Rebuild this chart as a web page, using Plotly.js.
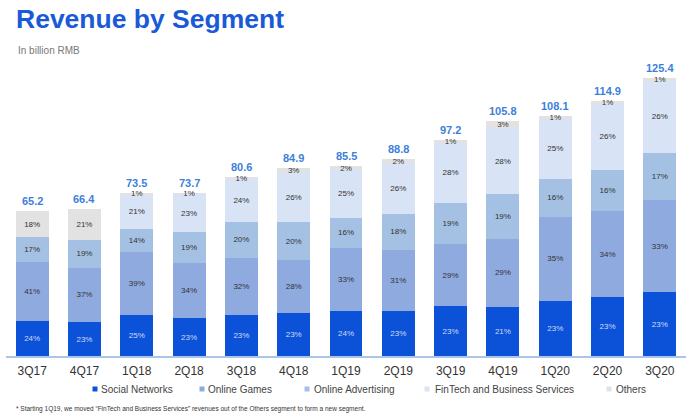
<!DOCTYPE html>
<html>
<head>
<meta charset="utf-8">
<script src="https://cdn.plot.ly/plotly-3.0.1.min.js"></script>
<style>html,body{margin:0;padding:0;background:#fff;}#chart{width:700px;height:420px;}</style>
</head>
<body>
<div id="chart"></div>
<script>
const quarters = ['3Q17','4Q17','1Q18','2Q18','3Q18','4Q18','1Q19','2Q19','3Q19','4Q19','1Q20','2Q20','3Q20'];
const totals = [65.2, 66.4, 73.5, 73.7, 80.6, 84.9, 85.5, 88.8, 97.2, 105.8, 108.1, 114.9, 125.4];
const socialPct = [24, 23, 25, 23, 23, 23, 24, 23, 23, 21, 23, 23, 23];
const gamesPct = [41, 37, 39, 34, 32, 28, 33, 31, 29, 29, 35, 34, 33];
const advertisingPct = [17, 19, 14, 19, 20, 20, 16, 18, 19, 19, 16, 16, 17];
const fintechPct = [0, 0, 21, 23, 24, 26, 25, 26, 28, 28, 25, 26, 26];
const othersPct = [18, 21, 1, 1, 1, 3, 2, 2, 1, 3, 1, 1, 1];
const segmentNames = ['Social Networks', 'Online Games', 'Online Advertising', 'FinTech and Business Services', 'Others'];
const segmentColors = ['#0b52d8', '#8eaadf', '#a4c1e3', '#d8e3f5', '#e2e2e2'];
const labelColors = ['#cfdbf6', '#333333', '#333333', '#333333', '#333333'];
const footnote = '* Starting 1Q19, we moved \u201cFinTech and Business Services\u201d revenues out of the Others segment to form a new segment.';

const pcts = [socialPct, gamesPct, advertisingPct, fintechPct, othersPct];
const FONT = 'Liberation Sans, Arial, sans-serif';

const traces = pcts.map((p, k) => ({
  type: 'bar',
  name: segmentNames[k],
  x: quarters,
  y: p.map((v, i) => totals[i] * v / 100),
  text: p.map(v => v > 0 ? v + '%' : ''),
  textposition: 'inside',
  insidetextanchor: 'middle',
  textangle: 0,
  constraintext: 'none',
  textfont: {family: FONT, size: 8, color: labelColors[k]},
  marker: {color: segmentColors[k], line: {width: 0}},
  hoverinfo: 'none',
  showlegend: false
}));

const W = 700, H = 420, ML = 6, MR = 14, MT = 60, MB = 64;
const PW = W - ML - MR, PH = H - MT - MB;
const px = x => (x - ML) / PW;
const py = y => (H - MB - y) / PH;

const annotations = [];
quarters.forEach((q, i) => {
  annotations.push({
    x: q, y: totals[i], xref: 'x', yref: 'y',
    text: totals[i].toFixed(1), showarrow: false,
    yanchor: 'bottom', yshift: 2,
    font: {family: FONT, size: 11, color: '#3d7fd9', weight: 700}
  });
});

// legend (custom, compact)
const legSquares = [95, 202, 307, 427, 609];
const legTexts = [99, 206, 312, 433, 614];
const legY = 389;
const shapes = [];
segmentNames.forEach((n, k) => {
  shapes.push({
    type: 'rect', xref: 'paper', yref: 'paper',
    x0: px(legSquares[k] - 2.5), x1: px(legSquares[k] + 2.5),
    y0: py(legY + 2.5), y1: py(legY - 2.5),
    fillcolor: segmentColors[k], line: {width: 0}
  });
  annotations.push({
    x: px(legTexts[k]), y: py(legY), xref: 'paper', yref: 'paper',
    text: n, showarrow: false, xanchor: 'left', yanchor: 'middle',
    font: {family: FONT, size: 10, color: '#444444'}
  });
});

annotations.push({
  x: px(16), y: py(51), xref: 'paper', yref: 'paper',
  text: 'In billion RMB', showarrow: false, xanchor: 'left', yanchor: 'middle',
  font: {family: FONT, size: 10, color: '#777777'}
});
annotations.push({
  x: px(14), y: py(409), xref: 'paper', yref: 'paper',
  text: footnote, showarrow: false, xanchor: 'left', yanchor: 'middle',
  font: {family: FONT, size: 6.5, color: '#333333'}
});

const layout = {
  width: W, height: H,
  margin: {l: ML, r: MR, t: MT, b: MB, pad: 0},
  paper_bgcolor: '#ffffff', plot_bgcolor: '#ffffff',
  barmode: 'stack', bargap: 0.37,
  title: {
    text: 'Revenue by Segment',
    x: 16 / W, xref: 'container', xanchor: 'left',
    y: 1 - 19 / H, yref: 'container', yanchor: 'middle',
    font: {family: FONT, size: 26.5, color: '#1a5ad7', weight: 700}
  },
  xaxis: {
    type: 'category', showgrid: false, zeroline: false,
    showline: true, linecolor: '#a9c5ea', linewidth: 1.5,
    ticks: '', ticklabelstandoff: 3,
    tickfont: {family: FONT, size: 12, color: '#333333'},
    range: [-0.5, quarters.length - 0.5]
  },
  yaxis: {
    visible: false, range: [0, 133.5], showgrid: false, zeroline: false
  },
  showlegend: false,
  annotations: annotations,
  shapes: shapes,
  font: {family: FONT}
};

Plotly.newPlot('chart', traces, layout, {displayModeBar: false, staticPlot: true});
</script>
</body>
</html>
